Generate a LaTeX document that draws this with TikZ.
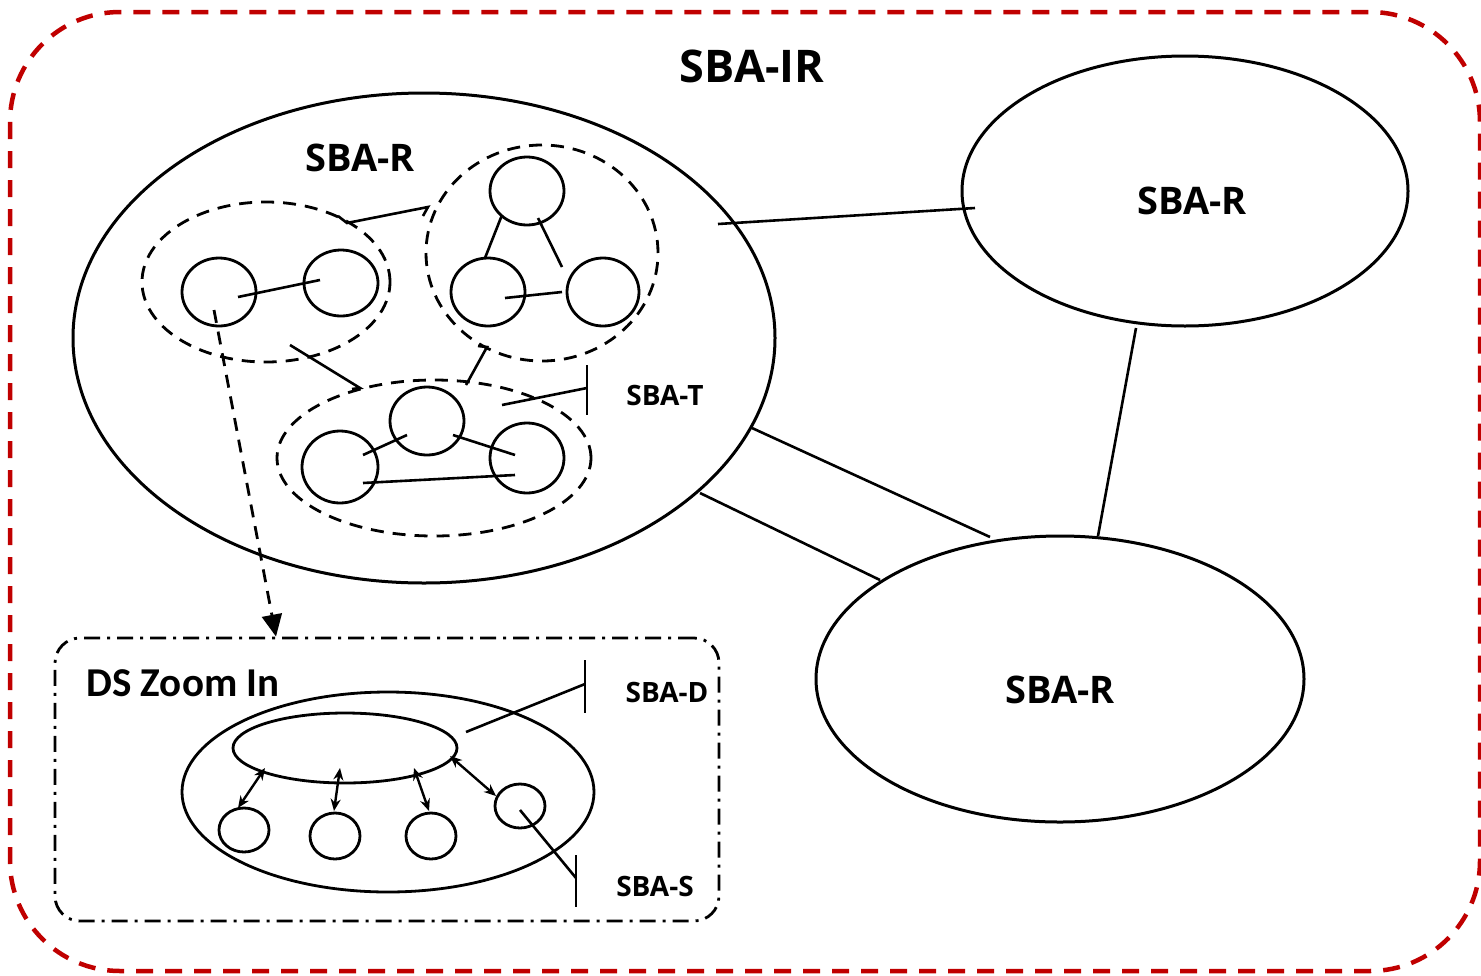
\documentclass[tikz,border=0pt]{standalone}
\usepackage{fontspec}
\setmainfont{Open Sans}
\newfontfamily\calfont{Carlito}
\usetikzlibrary{shapes.geometric,arrows.meta}
\definecolor{frame}{HTML}{C00000}
\begin{document}
\begin{tikzpicture}[x=1pt,y=-1pt,
  ell/.style={draw, ellipse, line width=3pt, inner sep=0pt},
  circ/.style={draw, ellipse, line width=2.8pt, inner sep=0pt},
  dell/.style={draw, ellipse, line width=2.8pt, dash pattern=on 13pt off 9pt, inner sep=0pt},
  conn/.style={line width=2.6pt},
  bigtxt/.style={font=\bfseries\fontsize{45}{50}\selectfont, inner sep=0pt},
  midtxt/.style={font=\bfseries\fontsize{38}{42}\selectfont, inner sep=0pt},
  smalltxt/.style={font=\bfseries\fontsize{28}{30}\selectfont, inner sep=0pt},
  dstxt/.style={font=\calfont\bfseries\fontsize{41}{44}\selectfont, inner sep=0pt},
  dbl/.style={line width=2.4pt, {Stealth[length=12pt,width=10pt]}-{Stealth[length=12pt,width=10pt]}},
]
\useasboundingbox (0,0) rectangle (1481,975);
% outer frame
\draw[frame, line width=4.5pt, dash pattern=on 17pt off 12pt, rounded corners=110pt] (10,12) rectangle (1480,971);
\node[bigtxt] (title) at (752,66) {SBA-IR};

% SBA-R ellipses
\node[ell, minimum width=702pt, minimum height=490pt] (R1) at (424,338) {};
\node[ell, minimum width=446pt, minimum height=270pt] (R2) at (1185,191) {};
\node[ell, minimum width=488pt, minimum height=286pt] (R3) at (1060,679) {};
\node[midtxt] (R1t) at (360,158) {SBA-R};
\node[midtxt] (R2t) at (1192,201) {SBA-R};
\node[midtxt] (R3t) at (1060,690) {SBA-R};

% links between SBA-R
\coordinate (e1a) at (718,224); \coordinate (e1b) at (975,208);
\coordinate (e2a) at (1136,328); \coordinate (e2b) at (1098,536);
\coordinate (e3a) at (752,428); \coordinate (e3b) at (990,537);
\coordinate (e4a) at (700,493); \coordinate (e4b) at (880,580);
\draw[conn] (e1a) -- (e1b);
\draw[conn] (e2a) -- (e2b);
\draw[conn] (e3a) -- (e3b);
\draw[conn] (e4a) -- (e4b);

% dashed clusters
\node[dell, minimum width=248pt, minimum height=160pt] (D1) at (266,282) {};
\node[dell, minimum width=232pt, minimum height=216pt] (D2) at (542,253) {};
\node[dell, minimum width=314pt, minimum height=156pt] (D3) at (434,458) {};

% cluster 1
\node[circ, minimum width=74pt, minimum height=68pt] (a1) at (219,292) {};
\node[circ, minimum width=74pt, minimum height=66pt] (a2) at (341,283) {};
\coordinate (a12s) at (238,297); \coordinate (a12e) at (320,280);
\draw[conn] (a12s) -- (a12e);

% cluster 2
\node[circ, minimum width=74pt, minimum height=68pt] (b1) at (527,191) {};
\node[circ, minimum width=74pt, minimum height=68pt] (b2) at (488,292) {};
\node[circ, minimum width=72pt, minimum height=68pt] (b3) at (603,292) {};
\coordinate (b1s) at (502,215); \coordinate (b1e) at (485,258);
\coordinate (b2s) at (538,218); \coordinate (b2e) at (562,267);
\coordinate (b3s) at (505,298); \coordinate (b3e) at (562,292);
\draw[conn] (b1s) -- (b1e);
\draw[conn] (b2s) -- (b2e);
\draw[conn] (b3s) -- (b3e);

% cluster 3
\node[circ, minimum width=74pt, minimum height=68pt] (c1) at (427,421) {};
\node[circ, minimum width=76pt, minimum height=72pt] (c2) at (340,467) {};
\node[circ, minimum width=74pt, minimum height=70pt] (c3) at (527,458) {};
\coordinate (c1s) at (363,455); \coordinate (c1e) at (407,435);
\coordinate (c2s) at (453,435); \coordinate (c2e) at (515,455);
\coordinate (c3s) at (363,483); \coordinate (c3e) at (515,475);
\draw[conn] (c1s) -- (c1e);
\draw[conn] (c2s) -- (c2e);
\draw[conn] (c3s) -- (c3e);

% links between clusters
\coordinate (l1a) at (338,216); \coordinate (l1b) at (347,223);
\coordinate (l1c) at (428,207); \coordinate (l1d) at (423,216);
\draw[conn] (l1a) -- (l1b) -- (l1c) -- (l1d);
\coordinate (l2a) at (290,345); \coordinate (l2b) at (360,388); \coordinate (l2c) at (352,389);
\draw[conn] (l2a) -- (l2b) -- (l2c);
\coordinate (l3a) at (478,346); \coordinate (l3b) at (487,347); \coordinate (l3c) at (466,385);
\draw[conn] (l3a) -- (l3b) -- (l3c);

% SBA-T
\coordinate (tb1) at (587,365); \coordinate (tb2) at (587,415);
\coordinate (tl1) at (502,405); \coordinate (tl2) at (587,388);
\draw[conn] (tb1) -- (tb2);
\draw[conn] (tl1) -- (tl2);
\node[smalltxt] (Tt) at (665,395) {SBA-T};

% DS zoom in box
\node[draw, line width=2.8pt, dash pattern=on 16pt off 7pt on 3pt off 7pt, rounded corners=25pt,
      minimum width=664pt, minimum height=283pt, inner sep=0pt] (DS) at (387,779.5) {};
\node[dstxt] (DSt) at (183,683) {DS Zoom In};

% dashed zoom arrow
\coordinate (zs) at (214,310);
\draw[line width=2.8pt, dash pattern=on 13pt off 9pt, -{Triangle[length=22pt,width=20pt]}] (zs) -- (DS.north -| 276,0);

% inside DS
\node[circ, minimum width=412pt, minimum height=200pt] (O) at (388,792) {};
\node[circ, minimum width=224pt, minimum height=70pt] (I) at (345,748) {};
\node[circ, minimum width=50pt, minimum height=44pt] (s1) at (244,830) {};
\node[circ, minimum width=50pt, minimum height=46pt] (s2) at (335,836) {};
\node[circ, minimum width=50pt, minimum height=46pt] (s3) at (431,836) {};
\node[circ, minimum width=50pt, minimum height=44pt] (s4) at (520,806) {};
\coordinate (d1a) at (265,768); \coordinate (d1b) at (238,808);
\coordinate (d2a) at (340,768); \coordinate (d2b) at (334,811);
\coordinate (d3a) at (414,768); \coordinate (d3b) at (429,811);
\coordinate (d4a) at (450,756); \coordinate (d4b) at (496,796);
\draw[dbl] (d1a) -- (d1b);
\draw[dbl] (d2a) -- (d2b);
\draw[dbl] (d3a) -- (d3b);
\draw[dbl] (d4a) -- (d4b);

% SBA-D
\coordinate (db1) at (585,660); \coordinate (db2) at (585,713);
\coordinate (dl1) at (466,732); \coordinate (dl2) at (585,684);
\draw[conn] (db1) -- (db2);
\draw[conn] (dl1) -- (dl2);
\node[smalltxt] (Dt) at (667,692) {SBA-D};

% SBA-S
\coordinate (sb1) at (576,855); \coordinate (sb2) at (576,907);
\coordinate (sl1) at (520,810); \coordinate (sl2) at (576,878);
\draw[conn] (sb1) -- (sb2);
\draw[conn] (sl1) -- (sl2);
\node[smalltxt] (St) at (655,886) {SBA-S};
\end{tikzpicture}
\end{document}
